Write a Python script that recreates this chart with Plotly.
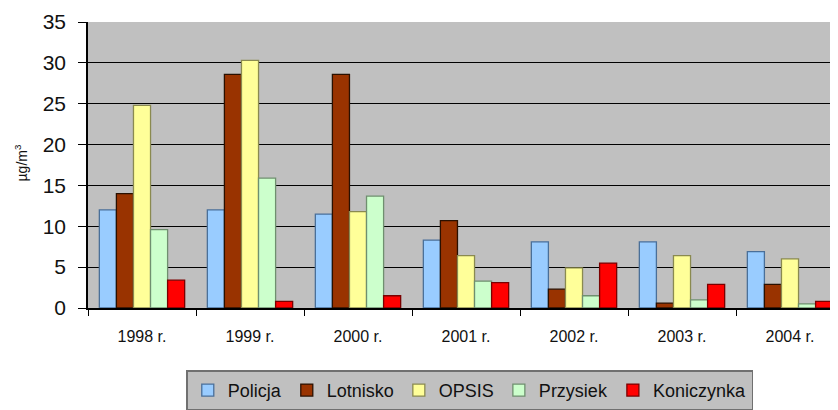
import plotly.graph_objects as go

years = ["1998 r.", "1999 r.", "2000 r.", "2001 r.", "2002 r.", "2003 r.", "2004 r."]
policja = [12.0, 12.0, 11.5, 8.3, 8.1, 8.1, 6.9]
lotnisko = [14.0, 28.6, 28.6, 10.7, 2.3, 0.6, 2.9]
opsis = [24.8, 30.3, 11.8, 6.4, 4.9, 6.4, 6.0]
przysiek = [9.6, 15.9, 13.7, 3.3, 1.5, 1.0, 0.5]
koniczynka = [3.4, 0.8, 1.5, 3.1, 5.5, 2.9, 0.8]

series = [
    ("Policja", policja, "#99CCFF", "#4A6F99"),
    ("Lotnisko", lotnisko, "#993300", "#2A1000"),
    ("OPSIS", opsis, "#FFFF99", "#8A8A50"),
    ("Przysiek", przysiek, "#CCFFCC", "#6F8F6F"),
    ("Koniczynka", koniczynka, "#FF0000", "#7A0000"),
]

fig = go.Figure()
for name, vals, col, edge in series:
    fig.add_trace(go.Bar(x=years, y=vals, name=name, marker=dict(color=col, line=dict(color=edge, width=1.3))))

fig.update_layout(
    width=838, height=410,
    margin=dict(l=80, r=2, t=14, b=110, autoexpand=False),
    paper_bgcolor="white", plot_bgcolor="#C0C0C0",
    barmode="group", bargap=0.21, bargroupgap=0,
    font=dict(family="Liberation Sans, Arial, sans-serif", color="#111"),
    showlegend=True,
    legend=dict(orientation="h", x=0.505, xanchor="center", y=-0.218, yanchor="top",
                bgcolor="#C0C0C0", bordercolor="#707070", borderwidth=1.5,
                font=dict(size=18), itemwidth=30, traceorder="normal"),
    xaxis=dict(showline=True, linecolor="black", linewidth=1.5, ticks="outside",
               tickson="boundaries", ticklen=6, tickcolor="black", automargin=False,
               tickfont=dict(size=16), ticklabelstandoff=13, showgrid=False),
    yaxis=dict(range=[0, 35], dtick=5, showline=True, linecolor="black", linewidth=1.5,
               ticks="outside", ticklen=8, tickcolor="black", tickfont=dict(size=21),
               automargin=False, ticklabelstandoff=8,
               showgrid=True, gridcolor="black", gridwidth=1.2, zeroline=False),
    annotations=[dict(text="µg/m<sup>3</sup>", xref="paper", yref="paper",
                      x=-0.088, y=0.507, xanchor="center", yanchor="middle",
                      textangle=-90, showarrow=False, font=dict(size=14))],
)

fig.write_html("out.html")
